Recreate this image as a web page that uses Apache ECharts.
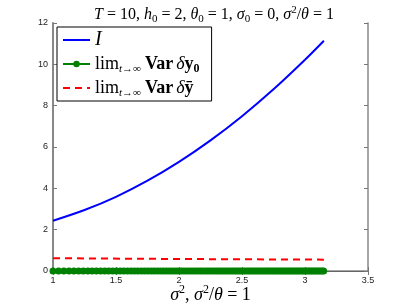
<!DOCTYPE html>
<html>
<head>
<meta charset="utf-8">
<script src="https://cdn.jsdelivr.net/npm/echarts@6/dist/echarts.min.js"></script>
<style>html,body{margin:0;padding:0;background:#fff}#c{width:407px;height:306px}</style>
</head>
<body>
<div id="c"></div>
<script>
// Blue curve I
var iX = [1.0, 1.25, 1.5, 1.75, 2.0, 2.25, 2.5, 2.75, 3.0, 3.15];
var iY = [2.43, 2.95, 3.59, 4.37, 5.28, 6.32, 7.49, 8.79, 10.22, 11.14];
// Green dotted series (lim Var δy0) sample positions and values
var gX = [1.000,1.044,1.086,1.127,1.166,1.204,1.241,1.277,1.311,1.345,1.378,1.411,1.442,1.473,1.503,1.533,1.562,1.591,1.619,1.646,
1.673,1.700,1.726,1.752,1.778,1.803,1.828,1.852,1.876,1.900,1.924,1.947,1.970,1.992,2.015,2.037,2.059,2.081,2.102,2.124,
2.145,2.166,2.186,2.207,2.227,2.247,2.267,2.287,2.307,2.326,2.345,2.364,2.383,2.402,2.421,2.439,2.458,2.476,2.494,2.512,
2.530,2.548,2.565,2.583,2.600,2.617,2.634,2.651,2.668,2.685,2.702,2.718,2.735,2.751,2.768,2.784,2.800,2.816,2.832,2.848,
2.864,2.879,2.895,2.910,2.926,2.941,2.956,2.972,2.987,3.002,3.017,3.032,3.046,3.061,3.076,3.090,3.105,3.119,3.134,3.148];
var gY = gX.map(function(){return 0;});
// Red dashed series (lim Var δȳ)
var rX = [1.0, 2.0, 3.15];
var rY = [0.62, 0.58, 0.55];
var xTicks = ['1','1.5','2','2.5','3','3.5'];
var yTicks = ['0','2','4','6','8','10','12'];

function pairs(xs, ys){ return xs.map(function(x,i){return [x, ys[i]];}); }

var serif = '"Liberation Serif","DejaVu Serif",serif';
var sans = '"Liberation Sans",Arial,sans-serif';
var legRich = {
  n:{fontFamily:serif,fontSize:18,color:'#000',lineHeight:22},
  it:{fontFamily:serif,fontSize:20,fontStyle:'italic',color:'#000',lineHeight:22},
  sub:{fontFamily:serif,fontSize:11,fontStyle:'italic',color:'#000',verticalAlign:'bottom',lineHeight:16,padding:[0,4,0,0]},
  b:{fontFamily:serif,fontSize:18,fontWeight:'bold',color:'#000',lineHeight:22,padding:[0,3,0,0]},
  by:{fontFamily:serif,fontSize:18,fontWeight:'bold',color:'#000',lineHeight:22},
  bsub:{fontFamily:serif,fontSize:12,fontWeight:'bold',color:'#000',verticalAlign:'bottom',lineHeight:16},
  d:{fontFamily:serif,fontSize:18,fontStyle:'italic',color:'#000',lineHeight:22}
};
var names = ['I','G','R'];
var chart = echarts.init(document.getElementById('c'));
chart.setOption({
  animation:false,
  backgroundColor:'#fff',
  title:{
    text:'{i|T} = 10, {i|h}{s|0} = 2, {i|θ}{s|0} = 1, {i|σ}{s|0} = 0, {i|σ}{p|2}/{i|θ} = 1',
    left:209, top:0, textAlign:'center',
    textStyle:{fontFamily:serif,fontSize:16,fontWeight:'normal',color:'#000',
      rich:{
        i:{fontFamily:serif,fontSize:16,fontStyle:'italic',color:'#000',lineHeight:20},
        s:{fontFamily:serif,fontSize:11,color:'#000',verticalAlign:'bottom',lineHeight:14},
        p:{fontFamily:serif,fontSize:11,color:'#000',verticalAlign:'top',lineHeight:14}
      }}
  },
  grid:{left:53,right:39,top:23,bottom:35,containLabel:false,outerBoundsMode:'none'},
  legend:{
    orient:'vertical', left:57, top:27,
    data:[{name:'I',itemStyle:{opacity:0}},{name:'G'},{name:'R',itemStyle:{opacity:0}}],
    borderColor:'#000', borderWidth:1, backgroundColor:'#fff',
    padding:[2,12,2,5], itemGap:2, itemWidth:27, itemHeight:8,
    formatter:function(n){
      if(n==='I') return '{it|I}';
      if(n==='G') return '{n|lim}{sub|t→∞}{b|Var}{d|δ}{by|y}{bsub|0}';
      return '{n|lim}{sub|t→∞}{b|Var}{d|δ}{by|ȳ}';
    },
    textStyle:{rich:legRich, lineHeight:22}
  },
  xAxis:[{
    type:'value', min:1, max:3.5, interval:0.5,
    name:'{i|σ}{p|2}, {i|σ}{p|2}/{i|θ} = 1', nameLocation:'middle', nameGap:13, nameMoveOverlap:false,
    nameTextStyle:{fontFamily:serif,fontSize:18,color:'#000',
      rich:{
        i:{fontFamily:serif,fontSize:18,fontStyle:'italic',color:'#000',lineHeight:22},
        p:{fontFamily:serif,fontSize:12,color:'#000',verticalAlign:'top',lineHeight:16}
      }},
    axisLine:{show:true,onZero:false,lineStyle:{color:'#000',width:1}},
    axisTick:{show:true,inside:true,length:4,lineStyle:{color:'#777'}},
    axisLabel:{fontFamily:sans,fontSize:9,color:'#222',margin:5,
      formatter:function(v){var i=Math.round((v-1)/0.5);return xTicks[i];}},
    splitLine:{show:false}
  },{
    type:'value', min:1, max:3.5, interval:0.5, position:'top',
    axisLine:{show:true,lineStyle:{color:'#888',width:1.5}},
    axisTick:{show:true,inside:true,length:4,lineStyle:{color:'#777'}},
    axisLabel:{show:false}, splitLine:{show:false}
  }],
  yAxis:[{
    type:'value', min:0, max:12, interval:2,
    axisLine:{show:true,onZero:false,lineStyle:{color:'#888',width:2}},
    axisTick:{show:true,inside:true,length:4,lineStyle:{color:'#777'}},
    axisLabel:{fontFamily:sans,fontSize:9,color:'#222',margin:5,
      formatter:function(v){return yTicks[Math.round(v/2)];}},
    splitLine:{show:false}
  },{
    type:'value', min:0, max:12, interval:2, position:'right',
    axisLine:{show:true,lineStyle:{color:'#888',width:1.5}},
    axisTick:{show:true,inside:true,length:4,lineStyle:{color:'#777'}},
    axisLabel:{show:false}, splitLine:{show:false}
  }],
  series:[
    {name:'I', type:'line', data:pairs(iX,iY), showSymbol:false, symbol:'none', smooth:0.3,
     lineStyle:{color:'#0000ff',width:2}, itemStyle:{color:'#0000ff'}, z:4},
    {name:'G', type:'line', data:pairs(gX,gY), symbol:'circle', symbolSize:7, showSymbol:true,
     lineStyle:{color:'#008000',width:2}, itemStyle:{color:'#008000'}, z:3},
    {name:'R', type:'line', data:pairs(rX,rY), symbol:'none', showSymbol:false,
     lineStyle:{color:'#ff0000',width:2,type:[7,5]}, itemStyle:{color:'#ff0000'}, z:2}
  ]
});
</script>
</body>
</html>
